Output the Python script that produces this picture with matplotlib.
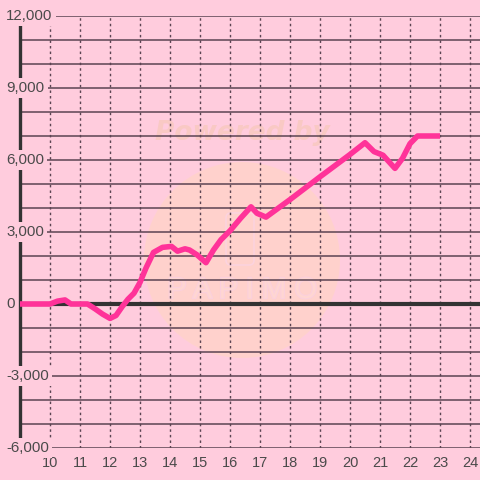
import numpy as np
import matplotlib.pyplot as plt
import matplotlib.patheffects as pe
from matplotlib.patches import Ellipse, FancyBboxPatch

plt.rcParams['font.family'] = ['Liberation Sans', 'DejaVu Sans']

hours = [9.0, 10.0, 10.25, 10.5, 10.7, 11.0, 11.25, 11.5, 11.75, 12.0, 12.2, 12.4,
         12.6, 12.8, 13.0, 13.2, 13.45, 13.75, 14.05, 14.25, 14.5, 14.65, 14.9,
         15.2, 15.45, 15.7, 16.0, 16.35, 16.7, 16.9, 17.2, 18.0, 19.0, 20.0, 20.5,
         20.8, 21.1, 21.5, 21.75, 22.0, 22.25, 23.0]
values = [0, 0, 120, 170, 0, 0, 0, -200, -420, -600, -480, -120,
          200, 450, 900, 1500, 2150, 2360, 2400, 2200, 2300, 2250, 2050,
          1720, 2250, 2680, 3050, 3570, 4050, 3780, 3620, 4350, 5300, 6230, 6720,
          6350, 6200, 5650, 6070, 6680, 7000, 7000]

xticks = list(range(10, 25))
yticks = [12000, 9000, 6000, 3000, 0, -3000, -6000]
ylabels = ['12,000', '9,000', '6,000', '3,000', '0', '-3,000', '-6,000']

bg = '#ffccdd'
grid_c = '#5b4452'
text_c = '#4a4a4a'

W = H = 480
fig = plt.figure(figsize=(4.8, 4.8), dpi=100, facecolor=bg)
ax = fig.add_axes([20 / W, 1 - 448 / H, 460 / W, 432 / H], facecolor=bg)
ax.set_xlim(9, 9 + 460 / 30)
ax.set_ylim(-6000, 12000)

# watermark (under the grid)
ft = fig.transFigure
circ = Ellipse((242 / W, 1 - 260 / H), 196 / W, 196 / H, transform=ft,
               facecolor='#ffd4c6', edgecolor='none', alpha=0.7, zorder=0)
ax.add_patch(circ)
box = FancyBboxPatch((226 / W, 1 - 265 / H), 28 / W, 52 / H, boxstyle='round,pad=0,rounding_size=0.01',
                     transform=ft, facecolor='none', edgecolor='#fcd3de', lw=1.2, zorder=0.5)
ax.add_patch(box)
ax.text(242 / W, 1 - 290 / H, 'P A P I M O', transform=ft, ha='center', va='center',
        fontsize=21, color='#ffd6d2', zorder=0.5,
        path_effects=[pe.withStroke(linewidth=1.6, foreground='#fbd0dc')])
ax.text(242 / W, 1 - 133 / H, 'Powered by', transform=ft, ha='center', va='center',
        fontsize=19, fontweight='bold', fontstyle='italic', color='#f9c9c4',
        family='DejaVu Sans', zorder=0.5)

# grid
for v in range(-6000, 12001, 1000):
    ax.axhline(v, color=grid_c, lw=1.1, zorder=1)
for t in xticks:
    ax.axvline(t, color=grid_c, lw=1.0, ls=(0, (1.8, 2.2)), zorder=1)
ax.axhline(0, color='#333333', lw=3, zorder=2)

for s in ['top', 'right', 'bottom']:
    ax.spines[s].set_visible(False)
ax.spines['left'].set_color('#333333')
ax.spines['left'].set_linewidth(2.4)
ax.spines['left'].set_zorder(2)

ax.plot(hours, values, color='#ff3399', lw=4, solid_joinstyle='round',
        solid_capstyle='butt', zorder=3)

ax.set_yticks([])
ax.set_xticks(xticks)
ax.set_xticklabels([str(t) for t in xticks], color=text_c, fontsize=10.5)
ax.tick_params(axis='x', length=0, pad=6)

for v, lab in zip(yticks, ylabels):
    yf = ax.transData.transform((9, v))[1] / fig.dpi / 4.8
    ax.text(6 / W, yf, lab, transform=ft, ha='left', va='center', fontsize=10.8,
            color=text_c, zorder=5, clip_on=False,
            bbox=dict(facecolor=bg, edgecolor='none', pad=2.5))

fig.savefig('out.png', dpi=100, facecolor=bg)
